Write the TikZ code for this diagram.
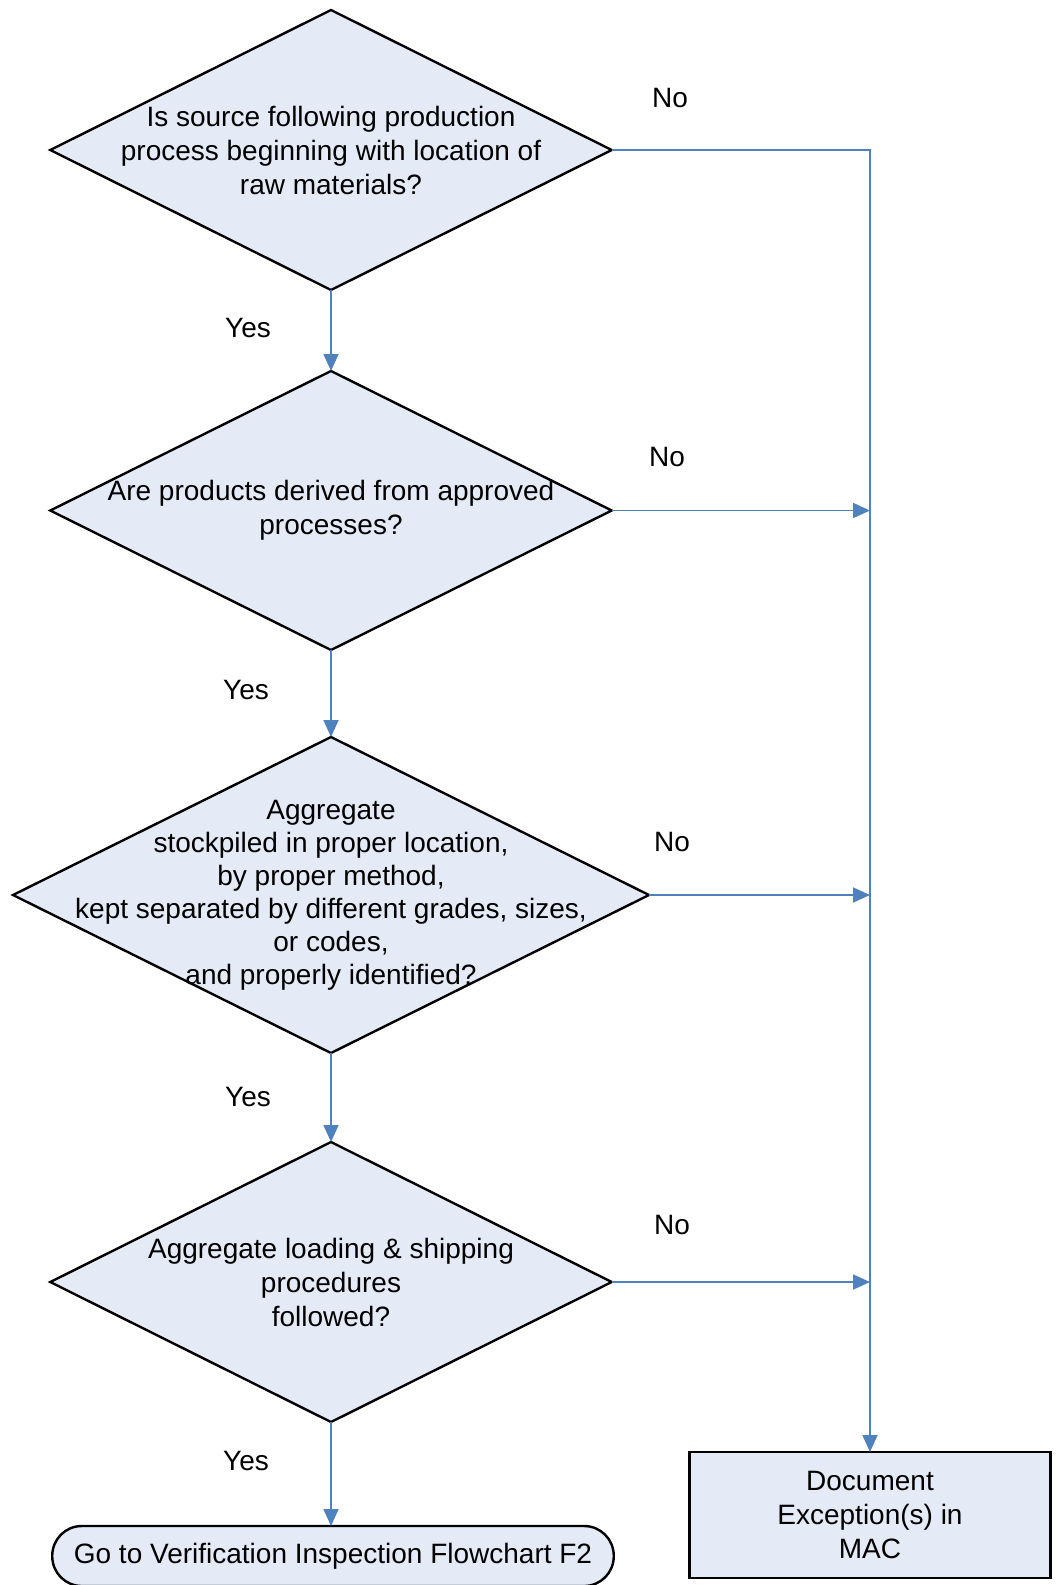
\documentclass[tikz,border=0pt]{standalone}
\usepackage{fontspec}
\setmainfont{Liberation Sans}
\usetikzlibrary{shapes.geometric,arrows.meta}

\definecolor{flowblue}{RGB}{79,129,189}
\definecolor{boxfill}{RGB}{228,235,247}

\tikzset{
  decision/.style={draw=black, line width=1.2pt, fill=boxfill, shape=diamond,
    inner sep=0pt, outer sep=0pt},
  qtext/.style={align=center, inner sep=0pt, font=\fontsize{14}{17}\selectfont},
  lbl/.style={inner sep=0pt, font=\fontsize{14}{17}\selectfont},
  terminal/.style={draw=black, line width=1.2pt, fill=boxfill, rectangle,
    rounded corners=14.8pt, minimum width=280.75pt, minimum height=30pt,
    inner sep=0pt, outer sep=0pt, font=\fontsize{14}{17}\selectfont},
  predef/.style={draw=black, line width=1.2pt, fill=boxfill, rectangle,
    minimum width=180.5pt, minimum height=63pt, inner sep=0pt, outer sep=0pt,
    align=center, font=\fontsize{14}{17}\selectfont,
    append after command={
      \pgfextra{\draw[black, line width=1.2pt]
        ([xshift=10.5pt]\tikzlastnode.north west) -- ([xshift=10.5pt]\tikzlastnode.south west)
        ([xshift=-10pt]\tikzlastnode.north east) -- ([xshift=-10pt]\tikzlastnode.south east);}}},
  flow/.style={draw=flowblue, line width=0.9pt,
    -{Triangle[length=8.5pt,width=7.5pt,fill=flowblue]}},
  plain/.style={draw=flowblue, line width=0.9pt}
}

\begin{document}
\begin{tikzpicture}[x=0.5pt,y=-0.5pt]
  \useasboundingbox (0,0) rectangle (1057,1585);

  % decisions
  \node[decision, minimum width=280.75pt, minimum height=140pt] (d1) at (331,150) {};
  \node[qtext] (d1t) at (d1) {Is source following production\\process beginning with location of\\raw materials?};

  \node[decision, minimum width=280.75pt, minimum height=139.5pt] (d2) at (331,510.5) {};
  \node[qtext] (d2t) at (d2) {Are products derived from approved\\processes?};

  \node[decision, minimum width=318pt, minimum height=158pt] (d3) at (331,895) {};
  \node[qtext, font=\fontsize{14}{16.5}\selectfont] (d3t) at (d3) {Aggregate\\stockpiled in proper location,\\by proper method,\\kept separated by different grades, sizes,\\or codes,\\and properly identified?};

  \node[decision, minimum width=280.75pt, minimum height=140pt] (d4) at (331,1282) {};
  \node[qtext] (d4t) at (d4) {Aggregate loading \& shipping\\procedures\\followed?};

  % end points
  \node[terminal] (goto) at (333,1556) {Go to Verification Inspection Flowchart F2};
  \node[predef] (doc) at (870,1515) {Document\\Exception(s) in\\MAC};

  % yes branch
  \draw[flow] (d1.south) -- (d2.north);
  \draw[flow] (d2.south) -- (d3.north);
  \draw[flow] (d3.south) -- (d4.north);
  \draw[flow] (d4.south) -- (d4.south |- goto.north);

  % no branch
  \draw[flow] (d1.east) -| (doc.north);
  \draw[flow] (d2.east) -- (d2.east -| doc.north);
  \draw[flow] (d3.east) -- (d3.east -| doc.north);
  \draw[flow] (d4.east) -- (d4.east -| doc.north);

  % branch labels
  \node[lbl] (y1) at (248,328) {Yes};
  \node[lbl] (y2) at (246,690) {Yes};
  \node[lbl] (y3) at (248,1097) {Yes};
  \node[lbl] (y4) at (246,1461) {Yes};
  \node[lbl] (n1) at (670,98) {No};
  \node[lbl] (n2) at (667,457) {No};
  \node[lbl] (n3) at (672,842) {No};
  \node[lbl] (n4) at (672,1225) {No};
\end{tikzpicture}
\end{document}
